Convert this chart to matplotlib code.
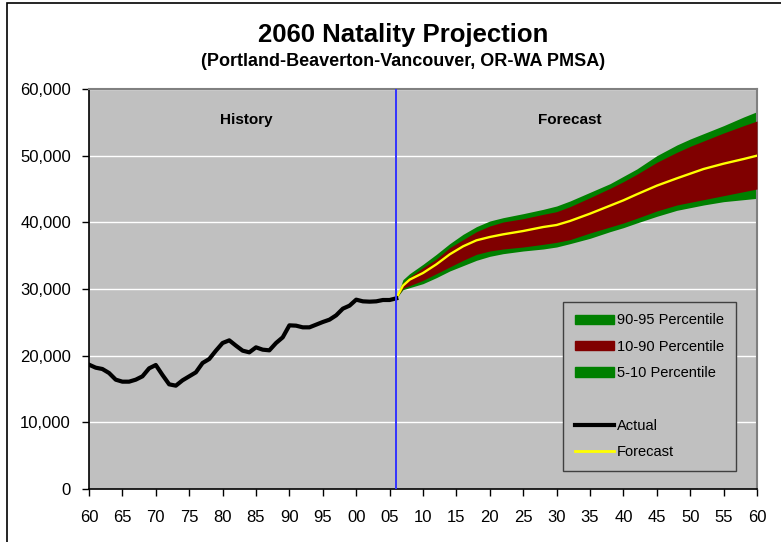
import matplotlib
matplotlib.use("Agg")
import matplotlib.pyplot as plt
from matplotlib.patches import Patch, Rectangle
from matplotlib.lines import Line2D
from matplotlib.ticker import FuncFormatter

plt.rcParams['font.family'] = ['Liberation Sans', 'DejaVu Sans']

# historical births (actual)
hist_years = list(range(1960, 2007))
hist_births = [18650, 18200, 18000, 17400, 16400, 16100, 16100, 16400, 16900, 18100,
               18600, 17100, 15700, 15500, 16300, 16900, 17500, 18900, 19500, 20750,
               21900, 22300, 21500, 20750, 20500, 21250, 20900, 20800, 21900, 22750,
               24550, 24500, 24250, 24250, 24650, 25050, 25400, 26050, 27050, 27500,
               28400, 28150, 28100, 28150, 28350, 28350, 28600]

# forecast percentiles
fc_years = [2006, 2007, 2008, 2010, 2012, 2014, 2016, 2018, 2020, 2022, 2025, 2028, 2030,
            2032, 2035, 2038, 2040, 2042, 2045, 2048, 2050, 2052, 2055, 2058, 2060]
fc_median = [28600, 30500, 31400, 32400, 33700, 35200, 36400, 37300, 37800, 38200, 38700,
             39300, 39600, 40200, 41300, 42500, 43300, 44200, 45500, 46600, 47300, 48000,
             48800, 49500, 50000]
fc_p95 = [28600, 31400, 32300, 33700, 35200, 36800, 38200, 39350, 40200, 40700, 41300,
          41950, 42450, 43200, 44500, 45800, 46900, 48000, 50000, 51600, 52500, 53300,
          54500, 55800, 56600]
fc_p90 = [28600, 30900, 31800, 33200, 34500, 36200, 37400, 38600, 39450, 40050, 40550,
          41200, 41600, 42350, 43700, 45100, 46100, 47200, 49000, 50500, 51400, 52200,
          53400, 54500, 55200]
fc_p10 = [28600, 30100, 30500, 31300, 32300, 33300, 34300, 35200, 35700, 36000, 36300,
          36700, 37000, 37400, 38400, 39300, 39900, 40600, 41700, 42600, 43000, 43400,
          44000, 44600, 45000]
fc_p05 = [28600, 29900, 30200, 30800, 31700, 32700, 33500, 34300, 34900, 35300, 35700,
          36000, 36300, 36800, 37600, 38600, 39200, 39900, 40900, 41800, 42200, 42600,
          43100, 43400, 43600]

green = '#008000'
maroon = '#800000'
gray = '#c0c0c0'

fig = plt.figure(figsize=(7.81, 5.42), dpi=100)
ax = fig.add_axes([89 / 781, 1 - 489 / 542, 668 / 781, 400 / 542])
ax.set_facecolor(gray)

# outer chart frame (left and top edges visible)
fig.patches.append(Rectangle((7 / 781, -0.2), 1.2, 1.2 - 3 / 542,
                             transform=fig.transFigure, fill=False,
                             edgecolor='black', linewidth=1.2))

ax.fill_between(fc_years, fc_p05, fc_p95, color=green, linewidth=0, zorder=2)
ax.fill_between(fc_years, fc_p10, fc_p90, color=maroon, linewidth=0, zorder=3)
ax.plot(fc_years, fc_median, color='#ffff00', linewidth=1.7, zorder=4)
ax.plot(hist_years, hist_births, color='black', linewidth=3, zorder=5)
ax.axvline(2006, color='#3333ff', linewidth=1.4, zorder=6)

ax.set_xlim(1960, 2060)
ax.set_ylim(0, 60000)
ax.set_xticks(range(1960, 2061, 5))
ax.set_xticklabels([f"{y % 100:02d}" for y in range(1960, 2061, 5)])
ax.set_yticks(range(0, 60001, 10000))
ax.yaxis.set_major_formatter(FuncFormatter(lambda v, p: f"{int(v):,}"))
ax.yaxis.grid(True, color='white', linewidth=1.0)
ax.set_axisbelow(True)
ax.tick_params(axis='both', direction='out', length=5, width=1, labelsize=12)
ax.tick_params(axis='x', pad=10)
ax.tick_params(axis='y', pad=8)

for s in ['top', 'right']:
    ax.spines[s].set_color('#808080')
    ax.spines[s].set_linewidth(1.5)
for s in ['left', 'bottom']:
    ax.spines[s].set_color('black')
    ax.spines[s].set_linewidth(1.2)

ax.text(1983.5, 55300, 'History', ha='center', va='center', fontsize=11, fontweight='bold')
ax.text(2032, 55300, 'Forecast', ha='center', va='center', fontsize=11, fontweight='bold')

fig.text(403 / 781, 1 - 35 / 542, '2060 Natality Projection', ha='center', va='center',
         fontsize=18.5, fontweight='bold')
fig.text(403 / 781, 1 - 62 / 542, '(Portland-Beaverton-Vancouver, OR-WA PMSA)',
         ha='center', va='center', fontsize=13, fontweight='bold')

handles = [Patch(color=green), Patch(color=maroon), Patch(color=green),
           Line2D([], [], color='none'),
           Line2D([], [], color='black', linewidth=3),
           Line2D([], [], color='#ffff00', linewidth=2)]
labels = ['90-95 Percentile', '10-90 Percentile', '5-10 Percentile', ' ', 'Actual', 'Forecast']
leg = ax.legend(handles, labels, loc='lower right', bbox_to_anchor=(0.9686, 0.045),
                borderaxespad=0, fontsize=10.5, frameon=True, fancybox=False,
                facecolor=gray, edgecolor='#404040', framealpha=1, handlelength=2.7,
                handleheight=0.6, labelspacing=0.85, handletextpad=0.2, borderpad=0.8)
leg.get_frame().set_linewidth(1.0)

fig.savefig('out.png', dpi=100)
